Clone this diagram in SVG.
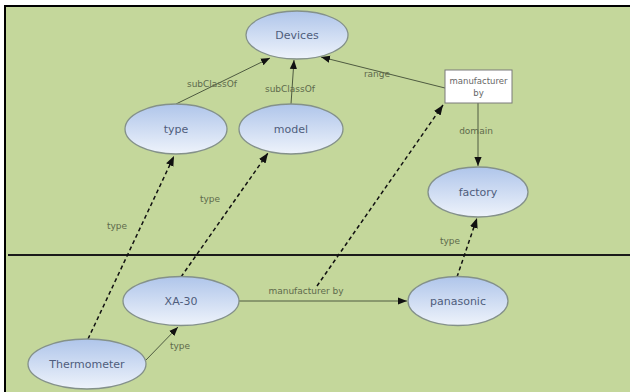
<svg xmlns="http://www.w3.org/2000/svg" width="630" height="392" viewBox="0 0 630 392">
<style>
.node ellipse{fill:url(#g);stroke:#84918a;stroke-width:1.3}
.nl{font-family:"DejaVu Sans",Verdana,sans-serif;font-size:11px;fill:#4f5d7c;text-anchor:middle}
.el{font-family:"DejaVu Sans",Verdana,sans-serif;font-size:9px;fill:#5e6a4c;text-anchor:middle}
.s{stroke:#4e5a40;stroke-width:1;fill:none}
.d{stroke:#111;stroke-width:1.5;stroke-dasharray:4,3;fill:none}
</style>
<defs>
<linearGradient id="g" x1="0" y1="0" x2="0" y2="1">
<stop offset="0" stop-color="#afc5ea"/>
<stop offset="1" stop-color="#eef3fb"/>
</linearGradient>
<marker id="a" viewBox="0 0 10 10" refX="10" refY="5" markerWidth="9" markerHeight="9" markerUnits="userSpaceOnUse" orient="auto">
<path d="M0,1 L10,5 L0,9 Z" fill="#111"/>
</marker>
<marker id="b" viewBox="0 0 10 10" refX="10" refY="5" markerWidth="10" markerHeight="10" markerUnits="userSpaceOnUse" orient="auto">
<path d="M0,1 L10,5 L0,9 Z" fill="#111"/>
</marker>
</defs>
<rect x="0" y="0" width="630" height="392" fill="#fff"/>
<rect x="5" y="6" width="625" height="386" fill="#c4d79b"/>
<path d="M5,392 V6 H630" fill="none" stroke="#000" stroke-width="2"/>
<line x1="8" y1="255" x2="630" y2="255" stroke="#1a1a1a" stroke-width="2"/>
<g id="connectors">
<line class="s" x1="176" y1="104" x2="270" y2="58" marker-end="url(#a)"/>
<line class="s" x1="291" y1="104" x2="294" y2="60" marker-end="url(#a)"/>
<line class="s" x1="445" y1="88" x2="321" y2="57" marker-end="url(#a)"/>
<line class="s" x1="478" y1="103" x2="478" y2="166" marker-end="url(#a)"/>
<line class="s" x1="239" y1="301" x2="407" y2="301" marker-end="url(#a)"/>
<line class="s" x1="146" y1="360" x2="178" y2="327" marker-end="url(#a)"/>
<line class="d" x1="88" y1="339" x2="174" y2="156" marker-end="url(#b)"/>
<line class="d" x1="181" y1="277" x2="268" y2="153" marker-end="url(#b)"/>
<line class="d" x1="317" y1="286" x2="443" y2="105" marker-end="url(#b)"/>
<line class="d" x1="457" y1="277" x2="477" y2="218" marker-end="url(#b)"/>
<text class="el" x="212" y="87">subClassOf</text>
<text class="el" x="290" y="92">subClassOf</text>
<text class="el" x="377" y="77">range</text>
<text class="el" x="476" y="134">domain</text>
<text class="el" x="117" y="229">type</text>
<text class="el" x="210" y="202">type</text>
<text class="el" x="306" y="294">manufacturer by</text>
<text class="el" x="450" y="244">type</text>
<text class="el" x="180" y="349">type</text>
</g>
<g id="devices" class="node"><ellipse cx="297" cy="35" rx="51" ry="24"/><text class="nl" x="297" y="39">Devices</text></g>
<g id="type" class="node"><ellipse cx="176" cy="129" rx="51" ry="25"/><text class="nl" x="176" y="133">type</text></g>
<g id="model" class="node"><ellipse cx="291" cy="129" rx="52" ry="25"/><text class="nl" x="291" y="133">model</text></g>
<g id="manufacturer-by"><rect x="445" y="70" width="67" height="33" fill="#fff" stroke="#7a7a7a" stroke-width="1"/><text class="el" x="478.5" y="84" style="font-size:8.5px;fill:#666">manufacturer</text><text class="el" x="478.5" y="96" style="font-size:8.5px;fill:#666">by</text></g>
<g id="factory" class="node"><ellipse cx="478" cy="192" rx="50" ry="25"/><text class="nl" x="478" y="196">factory</text></g>
<g id="xa30" class="node"><ellipse cx="181" cy="301" rx="58" ry="24.5"/><text class="nl" x="181" y="305">XA-30</text></g>
<g id="panasonic" class="node"><ellipse cx="458" cy="301" rx="50" ry="24.5"/><text class="nl" x="458" y="305">panasonic</text></g>
<g id="thermometer" class="node"><ellipse cx="87" cy="364" rx="59" ry="25"/><text class="nl" x="87" y="368">Thermometer</text></g>
</svg>
